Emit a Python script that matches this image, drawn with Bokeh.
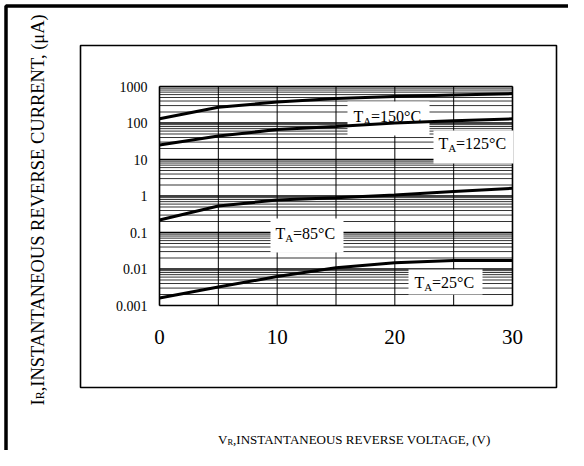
import math
from bokeh.plotting import figure
from bokeh.models import Label, FixedTicker, Range1d, BoxAnnotation
from bokeh.embed import file_html
from bokeh.resources import INLINE

# ---- data ----
voltage = [0, 5, 10, 15, 20, 25, 30]
ir_150 = [130, 270, 375, 470, 530, 585, 640]
ir_125 = [25, 44, 66, 80, 100, 115, 130]
ir_85 = [0.22, 0.53, 0.78, 0.9, 1.07, 1.32, 1.62]
ir_25 = [0.0016, 0.0032, 0.0062, 0.0108, 0.0148, 0.0171, 0.0172]

x_ticks = [0, 10, 20, 30]
x_grid = [0, 5, 10, 15, 20, 25, 30]
y_ticks = [0.001, 0.01, 0.1, 1, 10, 100, 1000]
y_tick_labels = ["0.001", "0.01", "0.1", "1", "10", "100", "1000"]
series_names = ["150", "125", "85", "25"]

x_title_main, x_title_sub, x_title_rest = "V", "R", ",INSTANTANEOUS REVERSE VOLTAGE, (V)"
y_title_main, y_title_sub, y_title_rest = "I", "R", ",INSTANTANEOUS REVERSE CURRENT, (μA)"

FONT = "Liberation Serif"

# ---- layout geometry (canvas pixels) ----
W, H = 568, 450
PX0, PX1 = 159, 512        # x = 0 .. 30
PY_TOP, PY_BOT = 86, 305   # y = 1000 .. 0.001
DEC = (PY_BOT - PY_TOP) / (len(y_ticks) - 1)

def xd(px):
    return x_grid[0] + (px - PX0) / (PX1 - PX0) * (x_grid[-1] - x_grid[0])

def yd(py):
    return y_ticks[-1] * 10 ** (-(py - PY_TOP) / DEC)

p = figure(width=W, height=H,
           x_range=Range1d(xd(0), xd(W)), y_range=Range1d(yd(H), yd(0)),
           y_axis_type="log", output_backend="svg", toolbar_location=None,
           min_border=0, background_fill_color="white", border_fill_color="white")
p.outline_line_color = None
p.xgrid.visible = False
p.ygrid.visible = False

# axes placed at the plot-area edges
p.xaxis.fixed_location = y_ticks[0]
p.yaxis.fixed_location = x_grid[0]
p.xaxis.ticker = FixedTicker(ticks=x_ticks)
p.yaxis.ticker = FixedTicker(ticks=y_ticks)
p.yaxis.major_label_overrides = {t: s for t, s in zip(y_ticks, y_tick_labels)}
for ax in (p.xaxis, p.yaxis):
    ax.axis_line_color = None
    ax.major_tick_line_color = None
    ax.minor_tick_line_color = None
    ax.major_tick_out = 0
    ax.minor_tick_out = 0
    ax.major_label_text_font = FONT
    ax.major_label_text_color = "black"
p.xaxis.major_label_text_font_size = "21px"
p.xaxis.major_label_standoff = 24
p.yaxis.major_label_text_font_size = "14px"
p.yaxis.major_label_standoff = 12

# grid lines restricted to the plot area
minor = [d * k for d in y_ticks[:-1] for k in range(2, 10)]
p.segment(x0=[x_grid[0]] * len(minor), x1=[x_grid[-1]] * len(minor), y0=minor, y1=minor,
          line_color="black", line_width=1, line_alpha=0.8)
p.segment(x0=[x_grid[0]] * len(y_ticks), x1=[x_grid[-1]] * len(y_ticks), y0=y_ticks, y1=y_ticks,
          line_color="black", line_width=1.3)
p.segment(x0=x_grid, x1=x_grid, y0=[y_ticks[0]] * len(x_grid), y1=[y_ticks[-1]] * len(x_grid),
          line_color="black", line_width=1)
p.segment(x0=[x_grid[0], x_grid[-1]], x1=[x_grid[0], x_grid[-1]],
          y0=[y_ticks[0]] * 2, y1=[y_ticks[-1]] * 2, line_color="black", line_width=1.6)

# white label backgrounds
label_specs = [
    ("150", 353, 116, 347, 429, 101, 135),
    ("125", 438, 143, 433, 513, 130, 163),
    ("85", 275, 233, 270, 343, 218, 252),
    ("25", 414, 282, 408, 482, 269, 294),
]
p.quad(left=[xd(s[3]) for s in label_specs], right=[xd(s[4]) for s in label_specs],
       top=[yd(s[5]) for s in label_specs], bottom=[yd(s[6]) for s in label_specs],
       fill_color="white", line_color=None)

# curves
for ys in (ir_150, ir_125, ir_85, ir_25):
    p.line(voltage, ys, line_color="black", line_width=3)

def lab(px, py, text, size, **kw):
    p.add_layout(Label(x=xd(px), y=yd(py), text=text, text_font=FONT,
                       text_font_size=f"{size}px", text_baseline="middle",
                       text_align="left", text_color="black", **kw))

# curve labels
for name, tx, ty, *_ in label_specs:
    lab(tx, ty, "T", 16)
    lab(tx + 9.8, ty + 4, "A", 11)
    lab(tx + 17.5, ty, "=" + name + "°C", 16)

# x title (centre ~356)
xfs = 13
xt_y = 439
x0 = 356 - 21.3 * xfs / 2
lab(x0, xt_y, x_title_main, xfs)
lab(x0 + 0.722 * xfs, xt_y + 2, x_title_sub, 8.5)
lab(x0 + 0.722 * xfs + 0.667 * 8.5, xt_y, x_title_rest, xfs)

# y title (rotated, centre ~37, 208)
yfs = 18.5
y0 = 208 + 21.3 * yfs / 2
lab(37, y0, y_title_main, yfs, angle=math.pi / 2)
lab(39.5, y0 - 0.333 * yfs, y_title_sub, 12, angle=math.pi / 2)
lab(37, y0 - 0.333 * yfs - 0.667 * 12, y_title_rest, yfs, angle=math.pi / 2)

# inner box and outer border
p.add_layout(BoxAnnotation(left=xd(80), right=xd(556), top=yd(45), bottom=yd(387),
                           fill_color=None, fill_alpha=0, line_color="black",
                           line_alpha=1, line_width=1.6))
p.add_layout(BoxAnnotation(left=xd(5.5), right=xd(W + 50), top=yd(5.5), bottom=yd(H + 50),
                           fill_color=None, fill_alpha=0, line_color="black",
                           line_alpha=1, line_width=3.5))

open("out.html", "w").write(file_html(p, INLINE))
